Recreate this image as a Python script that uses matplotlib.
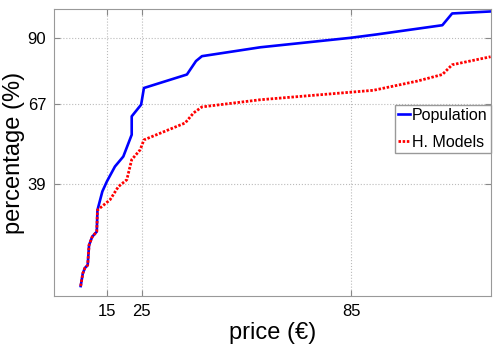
import matplotlib
matplotlib.use("Agg")
import matplotlib.pyplot as plt

plt.rcParams["font.family"] = ["Liberation Sans", "DejaVu Sans"]

# --- data -----------------------------------------------------------------

pop_price = [7.5, 8.1, 8.7, 9.5, 9.9, 10.8, 12.1, 12.3, 13.7, 15.0, 17.3, 19.7,
             22.1, 22.1, 24.8, 25.6, 37.9, 40.5, 42.2, 58.9, 84.7, 92.3,
             111.0, 113.8, 124.8]
pop_pct = [3.5, 7.9, 9.8, 10.8, 17.8, 20.7, 22.5, 30.0, 36.5, 40.0, 45.2, 48.7,
           56.3, 62.7, 66.8, 72.6, 77.3, 82.0, 83.7, 86.8, 90.1, 91.3,
           94.5, 98.6, 99.3]

hm_price = [7.5, 8.1, 8.7, 9.5, 9.9, 10.8, 12.1, 12.3, 13.0, 15.9, 18.3, 20.7,
            22.1, 24.5, 25.6, 37.4, 39.8, 42.2, 58.9, 91.3, 103.8, 111.0,
            113.8, 124.8]
hm_pct = [3.5, 7.9, 9.8, 10.8, 17.8, 20.7, 22.5, 30.0, 30.7, 33.6, 38.2, 40.6,
          47.6, 51.0, 54.5, 60.4, 63.9, 66.0, 68.5, 71.8, 75.0, 77.3,
          80.7, 83.5]

x_ticks = [15, 25, 85]
y_ticks = [39, 67, 90]

# --- plot ------------------------------------------------------------------

fig = plt.figure(figsize=(4.93, 3.5), dpi=100)
ax = fig.add_axes([0.1105, 0.154, 0.886, 0.819])

ax.plot(pop_price, pop_pct, color="#0000ff", lw=1.9, label="Population")
ax.plot(hm_price, hm_pct, color="#ff0000", lw=2.0, linestyle=(0, (0.9, 0.6)),
        label="H. Models")

ax.set_xlim(0, 125)
ax.set_ylim(0, 100)
ax.set_xticks(x_ticks)
ax.set_yticks(y_ticks)
ax.tick_params(direction="in", length=4, labelsize=12, color="#888888",
               top=True, right=True, pad=6)
ax.grid(True, linestyle=":", color="#bbbbbb", lw=0.8)
for s in ax.spines.values():
    s.set_color("#999999")

ax.set_xlabel("price (€)", fontsize=17, labelpad=2)
ax.set_ylabel("percentage (%)", fontsize=17, labelpad=2)

ax.legend(loc="upper right", bbox_to_anchor=(0.999, 0.668), fontsize=11.5,
          handlelength=0.7, handletextpad=0.15, borderpad=0.2,
          labelspacing=0.75, fancybox=False, framealpha=1,
          edgecolor="#999999", borderaxespad=0)

fig.savefig("out.png", dpi=100)
